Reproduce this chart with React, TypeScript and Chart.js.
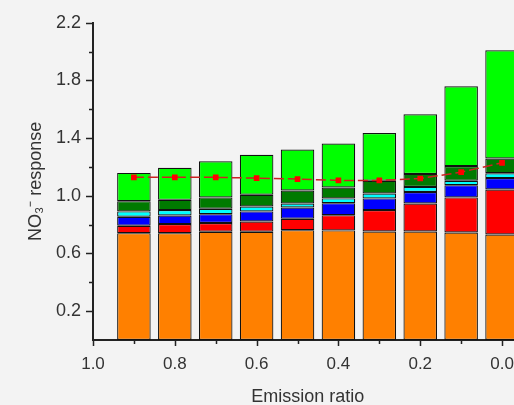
import { useEffect, useRef } from "react";
import { Chart, registerables } from "chart.js";

Chart.register(...registerables);

// Emission ratio categories (x positions of the stacked bars)
const emissionRatios = [0.9, 0.8, 0.7, 0.6, 0.5, 0.4, 0.3, 0.2, 0.1, 0.0];

// Stacked contributions (bottom to top)
const orangePart = [0.741, 0.741, 0.751, 0.751, 0.762, 0.76, 0.753, 0.753, 0.746, 0.732];
const redPart = [0.051, 0.063, 0.06, 0.071, 0.079, 0.106, 0.148, 0.194, 0.243, 0.312];
const bluePart = [0.063, 0.06, 0.062, 0.07, 0.078, 0.083, 0.081, 0.079, 0.085, 0.079];
const cyanPart = [0.037, 0.037, 0.037, 0.034, 0.028, 0.033, 0.034, 0.036, 0.03, 0.034];
const darkGreenPart = [0.071, 0.071, 0.079, 0.081, 0.09, 0.076, 0.088, 0.09, 0.102, 0.102];
const greenPart = [0.196, 0.222, 0.251, 0.277, 0.284, 0.305, 0.331, 0.414, 0.554, 0.751];

// Dashed line with square markers
const lineResponse = [1.128, 1.128, 1.128, 1.123, 1.116, 1.107, 1.107, 1.12, 1.164, 1.229];

// Axis ticks
const xMajorTicks = [1.0, 0.8, 0.6, 0.4, 0.2, 0.0];
const xMinorTicks = [0.9, 0.7, 0.5, 0.3, 0.1];
const yMajorTicks = [0.2, 0.6, 1.0, 1.4, 1.8, 2.2];
const yMinorTicks = [0.4, 0.8, 1.2, 1.6, 2.0];

const FONT = "'Liberation Sans', Arial, sans-serif";
const AXIS_COLOR = "#222222";
const TEXT_COLOR = "#333333";

const toPoints = (vals: number[]) => emissionRatios.map((x, i) => ({ x, y: vals[i] }));

const bgPlugin = {
  id: "bgFill",
  beforeDraw(chart: any) {
    const { ctx, width, height } = chart;
    ctx.save();
    ctx.fillStyle = "#f3f3f3";
    ctx.fillRect(0, 0, width, height);
    ctx.restore();
  },
};

const tickPlugin = {
  id: "customTicks",
  afterDraw(chart: any) {
    const { ctx, chartArea, scales } = chart;
    const xs = scales.x;
    const ys = scales.y;
    ctx.save();
    ctx.strokeStyle = AXIS_COLOR;
    ctx.lineWidth = 1.5;
    ctx.beginPath();
    yMajorTicks.forEach((v) => {
      const py = Math.round(ys.getPixelForValue(v)) + 0.5;
      ctx.moveTo(chartArea.left - 7, py);
      ctx.lineTo(chartArea.left, py);
    });
    yMinorTicks.forEach((v) => {
      const py = Math.round(ys.getPixelForValue(v)) + 0.5;
      ctx.moveTo(chartArea.left - 4, py);
      ctx.lineTo(chartArea.left, py);
    });
    xMajorTicks.forEach((v) => {
      const px = Math.round(xs.getPixelForValue(v)) + 0.5;
      ctx.moveTo(px, chartArea.bottom);
      ctx.lineTo(px, chartArea.bottom + 6);
    });
    xMinorTicks.forEach((v) => {
      const px = Math.round(xs.getPixelForValue(v)) + 0.5;
      ctx.moveTo(px, chartArea.bottom);
      ctx.lineTo(px, chartArea.bottom + 4);
    });
    ctx.stroke();
    ctx.restore();
  },
};

export default function App() {
  const canvasRef = useRef<HTMLCanvasElement | null>(null);

  useEffect(() => {
    if (!canvasRef.current) return;
    const barCommon = {
      type: "bar" as const,
      borderColor: "#111111",
      borderWidth: 1.2,
      borderSkipped: false,
      barPercentage: 0.82,
      categoryPercentage: 1,
      order: 1,
    };
    const chart = new Chart(canvasRef.current, {
      type: "bar",
      data: {
        datasets: [
          { ...barCommon, label: "Component 1", data: toPoints(orangePart), backgroundColor: "#ff8000" },
          { ...barCommon, label: "Component 2", data: toPoints(redPart), backgroundColor: "#ff0000" },
          { ...barCommon, label: "Component 3", data: toPoints(bluePart), backgroundColor: "#0000ff" },
          { ...barCommon, label: "Component 4", data: toPoints(cyanPart), backgroundColor: "#00ffff" },
          { ...barCommon, label: "Component 5", data: toPoints(darkGreenPart), backgroundColor: "#007a00" },
          { ...barCommon, label: "Component 6", data: toPoints(greenPart), backgroundColor: "#00ff00" },
          {
            type: "line" as const,
            label: "Total",
            stack: "line",
            data: toPoints(lineResponse),
            borderColor: "#cc2222",
            borderWidth: 1.5,
            borderDash: [10, 4],
            pointStyle: "rect",
            pointRadius: 4,
            pointBackgroundColor: "#ff0000",
            pointBorderColor: "#ff0000",
            pointBorderWidth: 0,
            fill: false,
            order: 0,
          } as any,
        ],
      },
      options: {
        responsive: false,
        animation: false,
        devicePixelRatio: 1,
        layout: { padding: { top: 22, right: 7.5, left: 0, bottom: 0 } },
        plugins: {
          legend: { display: false },
          tooltip: { enabled: false },
          title: { display: false },
        },
        scales: {
          x: {
            type: "linear",
            reverse: true,
            min: -0.05,
            max: 1.0,
            offset: false,
            stacked: true,
            grid: { display: false, drawTicks: false, offset: false },
            border: { display: true, color: AXIS_COLOR, width: 2 },
            afterBuildTicks: (scale: any) => {
              scale.ticks = xMajorTicks.map((v) => ({ value: v }));
            },
            afterFit: (scale: any) => {
              scale.height = 65;
            },
            ticks: {
              autoSkip: false,
              maxRotation: 0,
              padding: 14,
              color: TEXT_COLOR,
              font: { family: FONT, size: 17 },
              callback: (v: any) => Number(v).toFixed(1),
            },
            title: {
              display: true,
              text: "Emission ratio",
              color: TEXT_COLOR,
              font: { family: FONT, size: 18 },
              padding: { top: 0, bottom: -3 },
            },
          },
          y: {
            type: "linear",
            min: 0,
            max: 2.2,
            stacked: true,
            grid: { display: false, drawTicks: false },
            border: { display: true, color: AXIS_COLOR, width: 2 },
            afterBuildTicks: (scale: any) => {
              scale.ticks = yMajorTicks.map((v) => ({ value: v }));
            },
            afterFit: (scale: any) => {
              scale.width = 93;
            },
            ticks: {
              autoSkip: false,
              padding: 12,
              color: TEXT_COLOR,
              font: { family: FONT, size: 18 },
              callback: (v: any) => Number(v).toFixed(1),
            },
            title: {
              display: true,
              text: "NO₃⁻ response",
              color: TEXT_COLOR,
              font: { family: FONT, size: 18 },
              padding: { top: 25, bottom: 0 },
            },
          },
        },
      },
      plugins: [bgPlugin, tickPlugin],
    });
    return () => chart.destroy();
  }, []);

  return (
    <div
      style={{
        position: "fixed",
        left: 0,
        top: 0,
        width: 514,
        height: 405,
        overflow: "hidden",
        background: "#f3f3f3",
      }}
    >
      <canvas ref={canvasRef} width={530} height={405} style={{ width: 530, height: 405, display: "block" }} />
    </div>
  );
}
